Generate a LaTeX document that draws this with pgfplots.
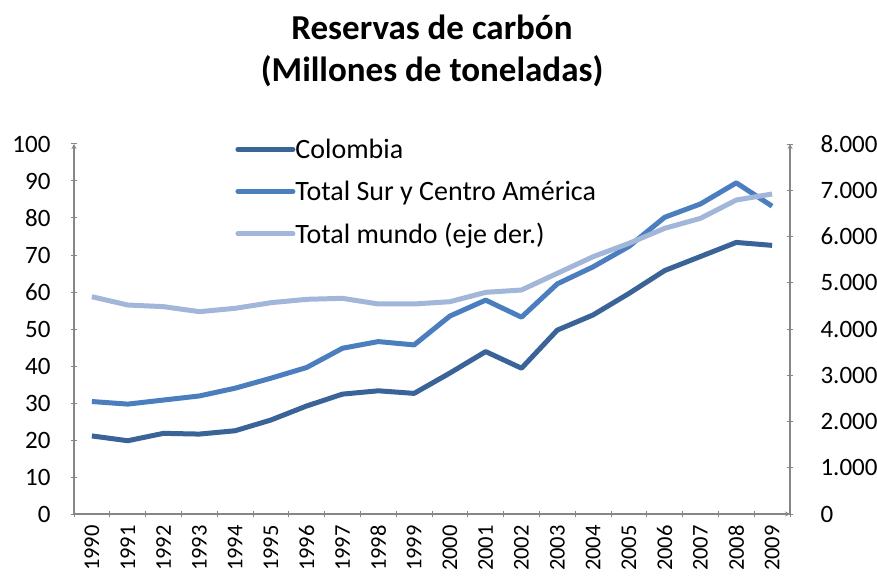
\documentclass[border=0pt]{standalone}
\usepackage{pgfplots}
\pgfplotsset{compat=1.18}
\usepackage{fontspec}
\setmainfont{Carlito}
\definecolor{colC}{HTML}{3A6397}
\definecolor{colS}{HTML}{4A7EBE}
\definecolor{colM}{HTML}{A2B6D9}
\definecolor{axgray}{HTML}{868686}
\begin{document}
\begin{tikzpicture}
\path[use as bounding box] (0,0) rectangle (877pt,576pt);
\pgfplotsset{
  common/.style={
    at={(74pt,62pt)}, anchor=south west,
    width=716pt, height=370pt, scale only axis,
    xmin=-0.5, xmax=19.5,
    tick label style={font=\fontsize{25}{27}\selectfont},
    /pgf/number format/assume math mode=true,
    tick align=outside,
    major tick length=6pt,
    tick style={axgray, line width=1pt},
    axis line style={-, axgray, line width=1.2pt},
    clip=false,
  }
}
\begin{axis}[common,
  axis x line=bottom, axis y line=left,
  ymin=0, ymax=100, ytick={0,10,...,100},
  xtick={-0.5,0.5,...,19.5},
  x tick label as interval,
  xticklabels={1990,1991,1992,1993,1994,1995,1996,1997,1998,1999,2000,2001,2002,2003,2004,2005,2006,2007,2008,2009},
  x tick label style={rotate=90, anchor=east, yshift=0pt, xshift=-6pt, inner sep=2pt, font=\fontsize{22.5}{24}\selectfont},
  yticklabel style={xshift=-17pt},
  title={Reservas de carbón\\(Millones de toneladas)},
  title style={font=\fontsize{35}{42}\selectfont\bfseries, align=center, yshift=48pt},
  legend style={at={(0.221,1.025)}, anchor=north west, draw=none, fill=none,
    font=\fontsize{28}{30}\selectfont, row sep=17pt,
    /tikz/every odd column/.style={column sep=-2pt}},
  legend cell align=left,
  legend image code/.code={\draw[#1, line cap=round] (0pt,0pt) -- (55pt,0pt);},
]
\addplot[colC, line width=5pt, line join=round] coordinates {
(0,21.1) (1,19.8) (2,21.8) (3,21.6) (4,22.5) (5,25.4) (6,29.2) (7,32.4) (8,33.3) (9,32.6)
(10,38.1) (11,43.9) (12,39.4) (13,49.7) (14,53.8) (15,59.6) (16,65.8) (17,69.6) (18,73.4) (19,72.6)};
\addlegendentry{Colombia}
\addplot[colS, line width=5pt, line join=round] coordinates {
(0,30.4) (1,29.7) (2,30.8) (3,31.9) (4,34.0) (5,36.7) (6,39.6) (7,44.8) (8,46.6) (9,45.7)
(10,53.5) (11,57.8) (12,53.2) (13,62.2) (14,66.8) (15,72.3) (16,80.2) (17,83.8) (18,89.5) (19,83.2)};
\addlegendentry{Total Sur y Centro América}
\addlegendimage{colM, line width=5pt}
\addlegendentry{Total mundo (eje der.)}
\end{axis}
\begin{axis}[common,
  axis x line=none, axis y line=right,
  ymin=0, ymax=8000, ytick={0,1000,...,8000},
  /pgf/number format/.cd, 1000 sep={.},
  /pgfplots/.cd,
  yticklabel style={xshift=24pt, anchor=west},
]
\addplot[colM, line width=5pt, line join=round] coordinates {
(0,4698) (1,4519) (2,4483) (3,4375) (4,4447) (5,4569) (6,4642) (7,4663) (8,4541) (9,4541)
(10,4590) (11,4793) (12,4843) (13,5204) (14,5563) (15,5852) (16,6177) (17,6393) (18,6789) (19,6919)};
\end{axis}
\end{tikzpicture}
\end{document}
